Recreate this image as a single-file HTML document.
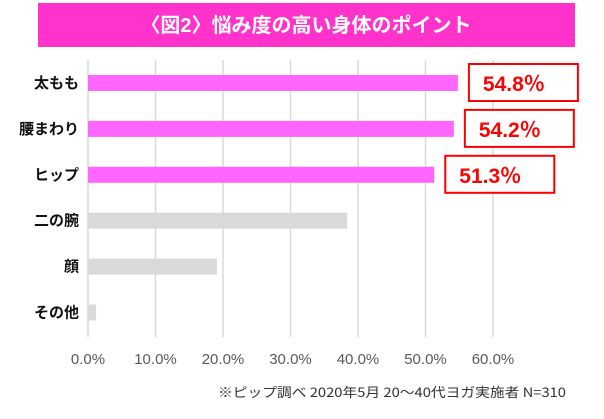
<!DOCTYPE html>
<html><head><meta charset="utf-8"><style>
body{margin:0;background:#fff;width:604px;height:414px;overflow:hidden;font-family:"Liberation Sans","Noto Sans CJK JP",sans-serif;}
</style></head><body>
<svg width="604" height="414" xmlns="http://www.w3.org/2000/svg">
<rect x="38" y="3" width="537" height="44" fill="#ff33cc"/>
<text x="306" y="32" fill="#fff" font-size="20" font-weight="bold" text-anchor="middle" font-family="Liberation Sans, Noto Sans CJK JP, sans-serif">〈図2〉悩み度の高い身体のポイント</text>
<g id="grid"></g><g id="bars"></g><g id="labels"></g><g id="ticks"></g><g id="callouts"></g>
<text x="566" y="397" font-size="13" fill="#333" text-anchor="end" textLength="348" lengthAdjust="spacingAndGlyphs" font-family="Noto Sans CJK JP, sans-serif">※ピップ調べ 2020年5月 20〜40代ヨガ実施者 N=310</text>
</svg>
<script>
const categories=["太もも","腰まわり","ヒップ","二の腕","顔","その他"];
const values=[54.8,54.2,51.3,38.4,19.1,1.2];
const highlighted=[true,true,true,false,false,false];
const calloutLabels=["54.8","54.2","51.3"];
const ticks=[0,10,20,30,40,50,60];
const NS="http://www.w3.org/2000/svg";
const x0=88,pxPer=6.75,y0=75,step=45.9,bh=16;
const X=v=>x0+v*pxPer, Y=i=>y0+i*step;
function mk(t,a,p){const e=document.createElementNS(NS,t);for(const k in a)e.setAttribute(k,a[k]);(typeof p==='string'?document.getElementById(p):p).appendChild(e);return e;}
ticks.forEach(t=>{
 const l=mk('line',{x1:X(t),x2:X(t),y1:60,y2:337,stroke:'#d9d9d9','stroke-width':1.5},'grid');
 
 
 const tx=mk('text',{x:X(t),y:364,'font-size':15,fill:'#595959','text-anchor':'middle'},'ticks');
 tx.textContent=t.toFixed(1)+'%';
 
 
});
categories.forEach((c,i)=>{
 const r=mk('rect',{x:x0,y:Y(i),width:X(values[i])-x0,height:bh,fill:highlighted[i]?'#ff66ff':'#d9d9d9'},'bars');
 
 
 const t=mk('text',{x:79,y:Y(i)+13,'font-size':15,'font-weight':'bold',fill:'#111','text-anchor':'end'},'labels');
 t.textContent=c;
 
 
});
calloutLabels.forEach((s,i)=>{
 const bx=X(values[i])+11;
 const r=mk('rect',{x:bx,y:Y(i)-11,width:109,height:37,fill:'#fff',stroke:'#ff0000','stroke-width':2},'callouts');
 
 
 const t=mk('text',{x:bx+14,y:Y(i)+16,'font-size':21,'font-weight':'bold',fill:'#ff0000'},'callouts');
 
 
 const a=mk('tspan',{},t);a.textContent=s;
 const b=mk('tspan',{'font-family':'Noto Sans CJK JP, sans-serif'},t);b.textContent='％';
});
</script>
</body></html>
